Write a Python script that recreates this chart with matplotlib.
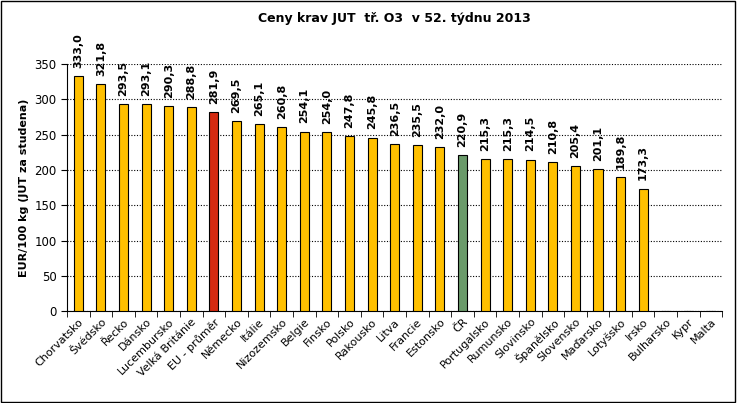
import numpy as np
import matplotlib.pyplot as plt
from matplotlib.patches import Rectangle

countries = ['Chorvatsko', 'Švédsko', 'Řecko', 'Dánsko', 'Lucembursko', 'Velká Británie',
             'EU - průměr', 'Německo', 'Itálie', 'Nizozemsko', 'Belgie', 'Finsko', 'Polsko',
             'Rakousko', 'Litva', 'Francie', 'Estonsko', 'ČR', 'Portugalsko', 'Rumunsko',
             'Slovinsko', 'Španělsko', 'Slovensko', 'Maďarsko', 'Lotyšsko', 'Irsko',
             'Bulharsko', 'Kypr', 'Malta']
prices = [333.0, 321.8, 293.5, 293.1, 290.3, 288.8, 281.9, 269.5, 265.1, 260.8, 254.1,
          254.0, 247.8, 245.8, 236.5, 235.5, 232.0, 220.9, 215.3, 215.3, 214.5, 210.8,
          205.4, 201.1, 189.8, 173.3, 0, 0, 0]

colors = []
for c in countries:
    if c == 'EU - průměr':
        colors.append('#D42A10')
    elif c == 'ČR':
        colors.append('#6A9A6A')
    else:
        colors.append('#FFC000')

fig = plt.figure(figsize=(7.37, 4.03), dpi=100)
ax = fig.add_axes([0.091, 0.228, 0.889, 0.613])

x = np.arange(len(countries))
ax.bar(x, prices, width=0.4, color=colors, edgecolor='black', linewidth=0.8, zorder=3)

for xi, v in zip(x, prices):
    if v > 0:
        ax.annotate(f'{v:.1f}'.replace('.', ','), (xi, v), xytext=(0, 6),
                    textcoords='offset points', rotation=90, ha='center', va='bottom',
                    fontsize=8, fontweight='bold', annotation_clip=False)

ax.set_xlim(-0.5, len(countries) - 0.5)
ax.set_ylim(0, 350)
ax.set_yticks(np.arange(0, 351, 50))
ax.yaxis.grid(True, linestyle=(0, (1, 1.5)), color='black', linewidth=0.8)
ax.set_axisbelow(True)

ax.set_xticks(x)
ax.set_xticklabels(countries, rotation=45, ha='right', rotation_mode='anchor', fontsize=8)
ax.set_xticks(np.arange(-0.5, len(countries), 1), minor=True)
ax.tick_params(axis='x', which='major', length=0, pad=4)
ax.tick_params(axis='x', which='minor', length=4, direction='out')
ax.tick_params(axis='y', labelsize=8.5, length=4)

for s in ['top', 'right']:
    ax.spines[s].set_visible(False)

ax.set_ylabel('EUR/100 kg (JUT za studena)', fontsize=8, fontweight='bold')
fig.text(0.535, 0.955, 'Ceny krav JUT  tř. O3  v 52. týdnu 2013', ha='center', va='center',
         fontsize=9, fontweight='bold')

fig.patches.append(Rectangle((0.002, 0.003), 0.995, 0.994, transform=fig.transFigure,
                             fill=False, edgecolor='black', linewidth=1))

fig.savefig('out.png', dpi=100)
